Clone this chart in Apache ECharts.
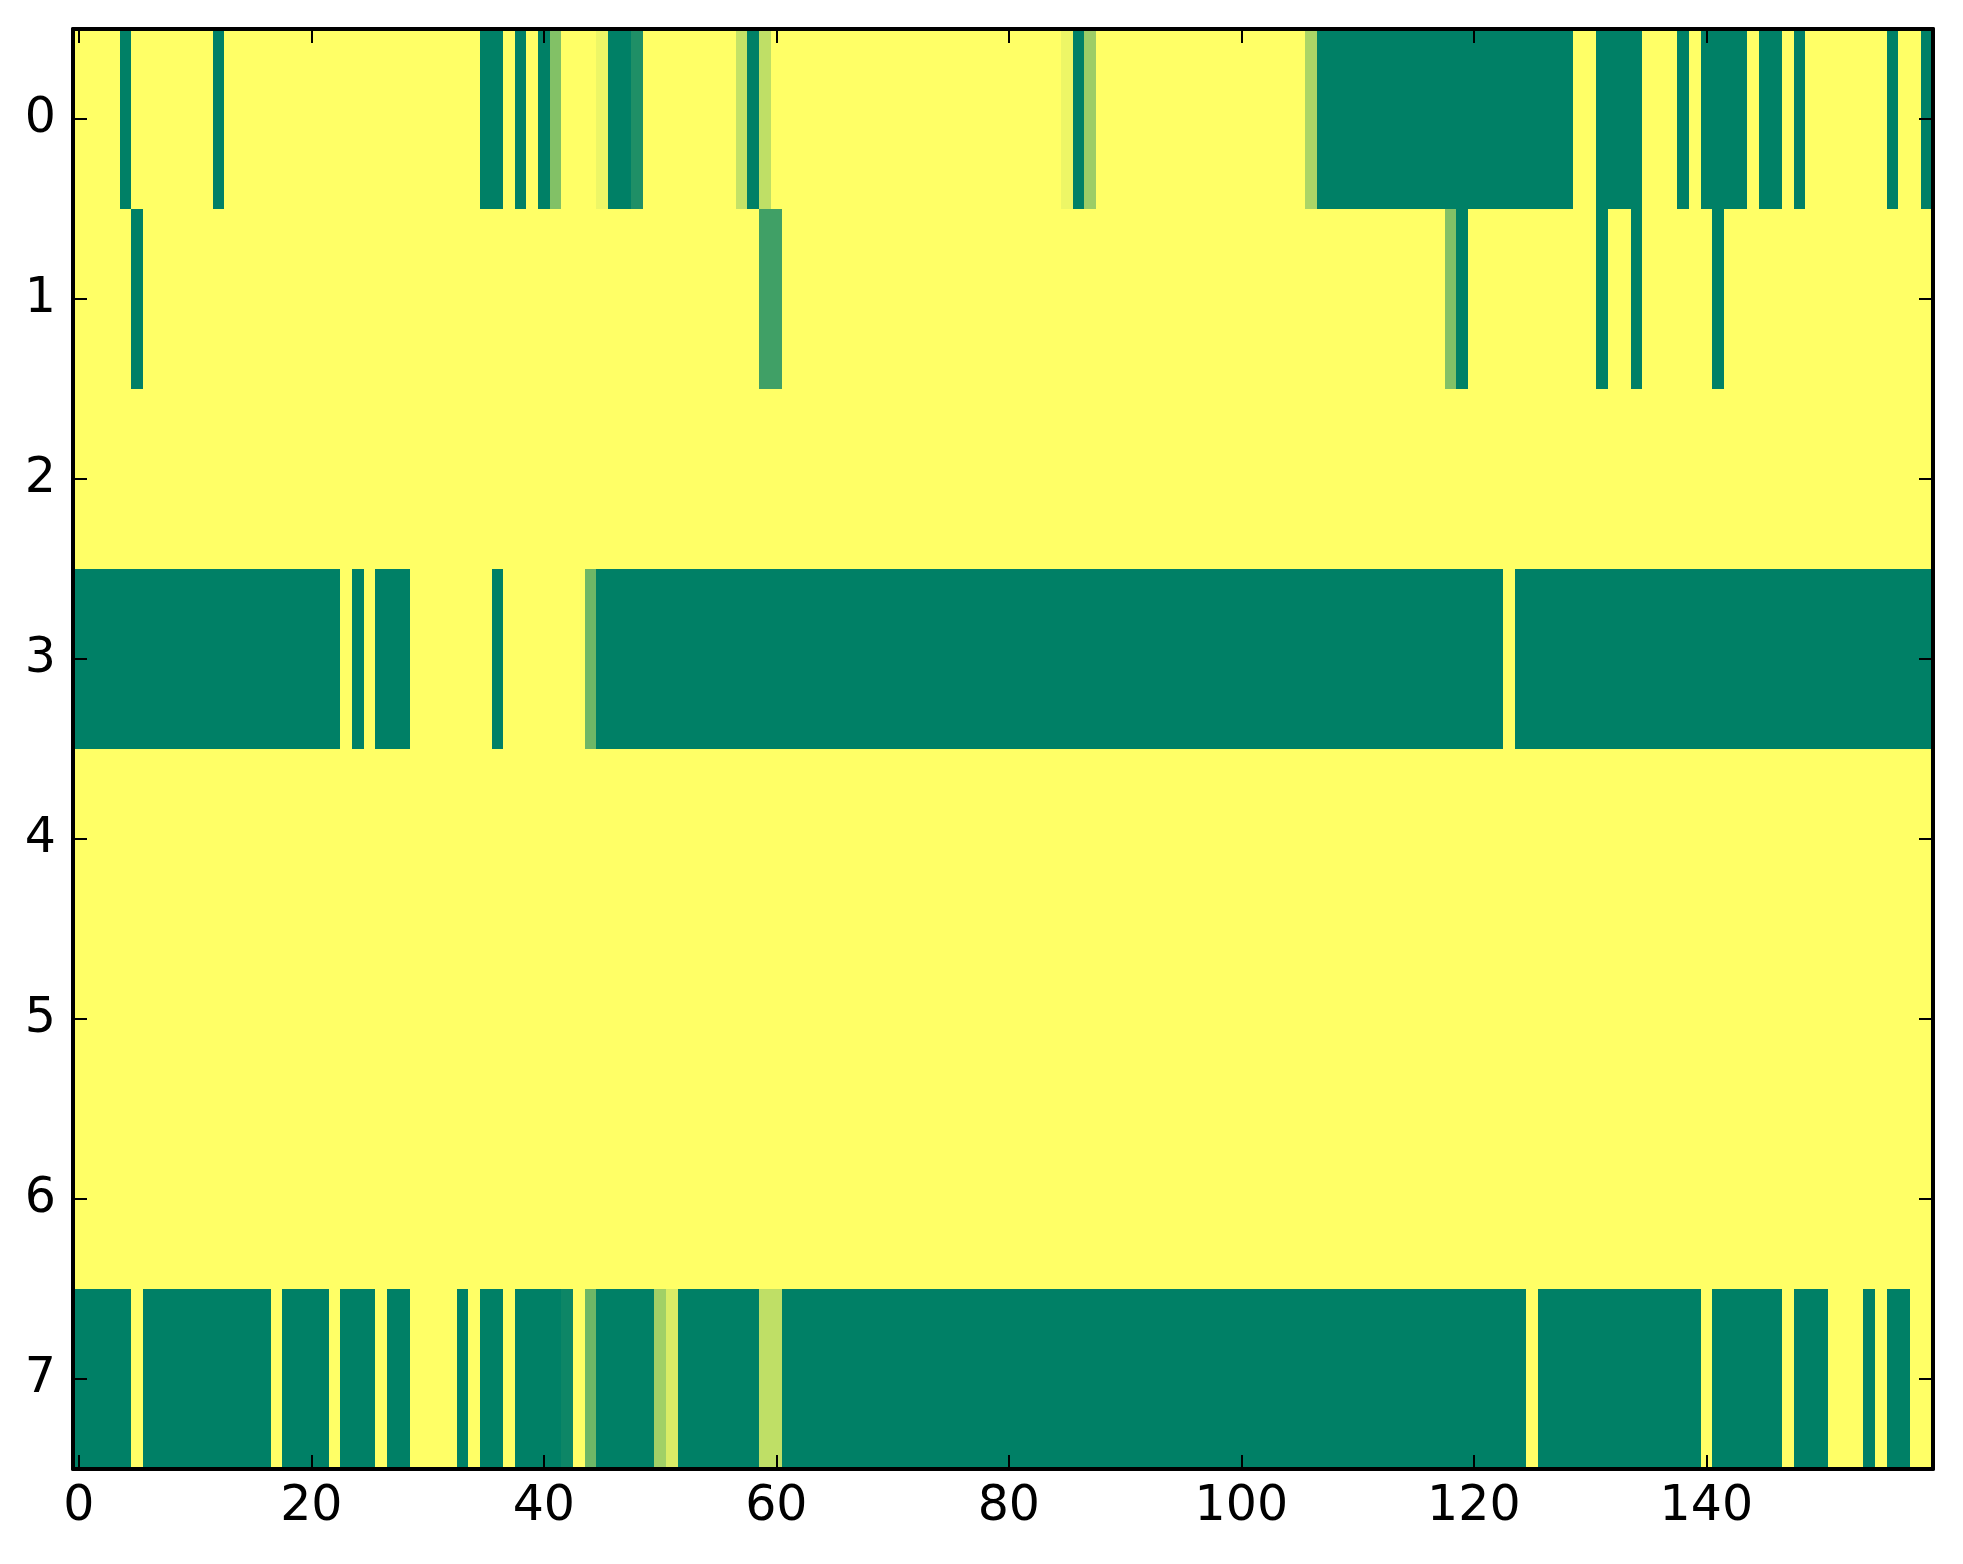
<!DOCTYPE html>
<html>
<head>
<meta charset="utf-8">
<script src="https://cdn.jsdelivr.net/npm/echarts@6/dist/echarts.min.js"></script>
<style>
html, body { margin: 0; padding: 0; background: #ffffff; }
#chart { width: 1963px; height: 1564px; }
</style>
</head>
<body>
<div id="chart"></div>
<script>
// Row labels (top to bottom) and x tick labels shown
var yCategories = ['0', '1', '2', '3', '4', '5', '6', '7'];
var xTickLabels = ['0', '20', '40', '60', '80', '100', '120', '140'];
var columnCount = 160;

// Cell values per row, columns 0..159 (0 = dark green, 1 = yellow)
var row0 = [
  1,1,1,1,0,1,1,1,1,1,
  1,1,0,1,1,1,1,1,1,1,
  1,1,1,1,1,1,1,1,1,1,
  1,1,1,1,1,0,0,1,0,1,
  0,0.51,1,1,1,0.93,0,0,0.12,1,
  1,1,1,1,1,1,1,0.77,0,0.75,
  1,1,1,1,1,1,1,1,1,1,
  1,1,1,1,1,1,1,1,1,1,
  1,1,1,1,1,0.93,0,0.61,1,1,
  1,1,1,1,1,1,1,1,1,1,
  1,1,1,1,1,1,0.67,0,0,0,
  0,0,0,0,0,0,0,0,0,0,
  0,0,0,0,0,0,0,0,0,1,
  1,0,0,0,0,1,1,1,0,1,
  0,0,0,0,1,0,0,1,0,1,
  1,1,1,1,1,1,0,1,1,0
];
var row1 = [
  1,1,1,1,1,0,1,1,1,1,
  1,1,1,1,1,1,1,1,1,1,
  1,1,1,1,1,1,1,1,1,1,
  1,1,1,1,1,1,1,1,1,1,
  1,1,1,1,1,1,1,1,1,1,
  1,1,1,1,1,1,1,1,1,0.25,
  0.25,1,1,1,1,1,1,1,1,1,
  1,1,1,1,1,1,1,1,1,1,
  1,1,1,1,1,1,1,1,1,1,
  1,1,1,1,1,1,1,1,1,1,
  1,1,1,1,1,1,1,1,1,1,
  1,1,1,1,1,1,1,1,0.51,0,
  1,1,1,1,1,1,1,1,1,1,
  1,0,1,1,0,1,1,1,1,1,
  1,0,1,1,1,1,1,1,1,1,
  1,1,1,1,1,1,1,1,1,1
];
var row2 = [
  1,1,1,1,1,1,1,1,1,1, 1,1,1,1,1,1,1,1,1,1,
  1,1,1,1,1,1,1,1,1,1, 1,1,1,1,1,1,1,1,1,1,
  1,1,1,1,1,1,1,1,1,1, 1,1,1,1,1,1,1,1,1,1,
  1,1,1,1,1,1,1,1,1,1, 1,1,1,1,1,1,1,1,1,1,
  1,1,1,1,1,1,1,1,1,1, 1,1,1,1,1,1,1,1,1,1,
  1,1,1,1,1,1,1,1,1,1, 1,1,1,1,1,1,1,1,1,1,
  1,1,1,1,1,1,1,1,1,1, 1,1,1,1,1,1,1,1,1,1,
  1,1,1,1,1,1,1,1,1,1, 1,1,1,1,1,1,1,1,1,1
];
var row3 = [
  0,0,0,0,0,0,0,0,0,0,
  0,0,0,0,0,0,0,0,0,0,
  0,0,0,1,0,1,0,0,0,1,
  1,1,1,1,1,1,0,1,1,1,
  1,1,1,1,0.43,0,0,0,0,0,
  0,0,0,0,0,0,0,0,0,0,
  0,0,0,0,0,0,0,0,0,0,
  0,0,0,0,0,0,0,0,0,0,
  0,0,0,0,0,0,0,0,0,0,
  0,0,0,0,0,0,0,0,0,0,
  0,0,0,0,0,0,0,0,0,0,
  0,0,0,0,0,0,0,0,0,0,
  0,0,0,1,0,0,0,0,0,0,
  0,0,0,0,0,0,0,0,0,0,
  0,0,0,0,0,0,0,0,0,0,
  0,0,0,0,0,0,0,0,0,0
];
var row4 = [
  1,1,1,1,1,1,1,1,1,1, 1,1,1,1,1,1,1,1,1,1,
  1,1,1,1,1,1,1,1,1,1, 1,1,1,1,1,1,1,1,1,1,
  1,1,1,1,1,1,1,1,1,1, 1,1,1,1,1,1,1,1,1,1,
  1,1,1,1,1,1,1,1,1,1, 1,1,1,1,1,1,1,1,1,1,
  1,1,1,1,1,1,1,1,1,1, 1,1,1,1,1,1,1,1,1,1,
  1,1,1,1,1,1,1,1,1,1, 1,1,1,1,1,1,1,1,1,1,
  1,1,1,1,1,1,1,1,1,1, 1,1,1,1,1,1,1,1,1,1,
  1,1,1,1,1,1,1,1,1,1, 1,1,1,1,1,1,1,1,1,1
];
var row5 = [
  1,1,1,1,1,1,1,1,1,1, 1,1,1,1,1,1,1,1,1,1,
  1,1,1,1,1,1,1,1,1,1, 1,1,1,1,1,1,1,1,1,1,
  1,1,1,1,1,1,1,1,1,1, 1,1,1,1,1,1,1,1,1,1,
  1,1,1,1,1,1,1,1,1,1, 1,1,1,1,1,1,1,1,1,1,
  1,1,1,1,1,1,1,1,1,1, 1,1,1,1,1,1,1,1,1,1,
  1,1,1,1,1,1,1,1,1,1, 1,1,1,1,1,1,1,1,1,1,
  1,1,1,1,1,1,1,1,1,1, 1,1,1,1,1,1,1,1,1,1,
  1,1,1,1,1,1,1,1,1,1, 1,1,1,1,1,1,1,1,1,1
];
var row6 = [
  1,1,1,1,1,1,1,1,1,1, 1,1,1,1,1,1,1,1,1,1,
  1,1,1,1,1,1,1,1,1,1, 1,1,1,1,1,1,1,1,1,1,
  1,1,1,1,1,1,1,1,1,1, 1,1,1,1,1,1,1,1,1,1,
  1,1,1,1,1,1,1,1,1,1, 1,1,1,1,1,1,1,1,1,1,
  1,1,1,1,1,1,1,1,1,1, 1,1,1,1,1,1,1,1,1,1,
  1,1,1,1,1,1,1,1,1,1, 1,1,1,1,1,1,1,1,1,1,
  1,1,1,1,1,1,1,1,1,1, 1,1,1,1,1,1,1,1,1,1,
  1,1,1,1,1,1,1,1,1,1, 1,1,1,1,1,1,1,1,1,1
];
var row7 = [
  0,0,0,0,0,1,0,0,0,0,
  0,0,0,0,0,0,0,1,0,0,
  0,0,1,0,0,0,1,0,0,1,
  1,1,1,0,1,0,0,1,0,0,
  0,0,0.05,1,0.43,0,0,0,0,0,
  0.63,0.85,0,0,0,0,0,0,0,0.75,
  0.75,0,0,0,0,0,0,0,0,0,
  0,0,0,0,0,0,0,0,0,0,
  0,0,0,0,0,0,0,0,0,0,
  0,0,0,0,0,0,0,0,0,0,
  0,0,0,0,0,0,0,0,0,0,
  0,0,0,0,0,0,0,0,0,0,
  0,0,0,0,0,1,0,0,0,0,
  0,0,0,0,0,0,0,0,0,0,
  1,0,0,0,0,0,0,1,0,0,
  0,1,1,1,0,1,0,0,1,1
];

var rows = [row0, row1, row2, row3, row4, row5, row6, row7];

// Build library-side structures from the arrays above
var xCategories = [];
for (var i = 0; i < columnCount; i++) xCategories.push(String(i));

var heatData = [];
for (var r = 0; r < rows.length; r++) {
  for (var c = 0; c < rows[r].length; c++) {
    heatData.push([c, r, rows[r][c]]);
  }
}

function showX(index, value) { return xTickLabels.indexOf(String(value)) >= 0; }

var FONT = 'DejaVu Sans';
var axisLineStyle = { color: '#000000', width: 4 };
var tickStyle = { color: '#000000', width: 2 };

// Cells drawn through the axes' own scales; edges snapped to whole pixels so neighbours meet without seams
function renderCell(params, api) {
  var center = api.coord([api.value(0), api.value(1)]);
  var size = api.size([1, 1]);
  var x0 = Math.round(center[0] - size[0] / 2);
  var x1 = Math.round(center[0] + size[0] / 2);
  var y0 = Math.round(center[1] - size[1] / 2);
  var y1 = Math.round(center[1] + size[1] / 2);
  return {
    type: 'rect',
    shape: { x: x0, y: y0, width: x1 - x0, height: y1 - y0 },
    style: { fill: api.visual('color') },
    silent: true
  };
}

var chart = echarts.init(document.getElementById('chart'), null, { renderer: 'canvas' });
chart.setOption({
  animation: false,
  backgroundColor: '#ffffff',
  grid: { left: 73, right: 30, top: 29, bottom: 95, containLabel: false },
  xAxis: [
    {
      type: 'category', data: xCategories, position: 'bottom', z: 10,
      axisLine: { show: true, lineStyle: axisLineStyle },
      axisTick: { show: true, inside: true, length: 14, alignWithLabel: true, interval: showX, lineStyle: tickStyle },
      axisLabel: { show: true, interval: showX, fontFamily: FONT, fontSize: 49, color: '#000000', margin: 14 },
      splitLine: { show: false }, splitArea: { show: false }
    },
    {
      type: 'category', data: xCategories, position: 'top', z: 10,
      axisLine: { show: true, lineStyle: axisLineStyle },
      axisTick: { show: true, inside: true, length: 14, alignWithLabel: true, interval: showX, lineStyle: tickStyle },
      axisLabel: { show: false },
      splitLine: { show: false }, splitArea: { show: false }
    }
  ],
  yAxis: [
    {
      type: 'category', data: yCategories, inverse: true, position: 'left', z: 10,
      axisLine: { show: true, lineStyle: axisLineStyle },
      axisTick: { show: true, inside: true, length: 14, alignWithLabel: true, interval: 0, lineStyle: tickStyle },
      axisLabel: { show: true, interval: 0, fontFamily: FONT, fontSize: 49, color: '#000000', margin: 17 },
      splitLine: { show: false }, splitArea: { show: false }
    },
    {
      type: 'category', data: yCategories, inverse: true, position: 'right', z: 10,
      axisLine: { show: true, lineStyle: axisLineStyle },
      axisTick: { show: true, inside: true, length: 14, alignWithLabel: true, interval: 0, lineStyle: tickStyle },
      axisLabel: { show: false },
      splitLine: { show: false }, splitArea: { show: false }
    }
  ],
  visualMap: {
    show: false, type: 'continuous', min: 0, max: 1, dimension: 2, seriesIndex: 0,
    inRange: { color: ['#008066', '#ffff66'] }
  },
  series: [{
    type: 'custom',
    xAxisIndex: 0, yAxisIndex: 0,
    data: heatData,
    encode: { x: 0, y: 1 },
    renderItem: renderCell,
    z: 2,
    clip: true,
    silent: true
  }]
});
</script>
</body>
</html>
